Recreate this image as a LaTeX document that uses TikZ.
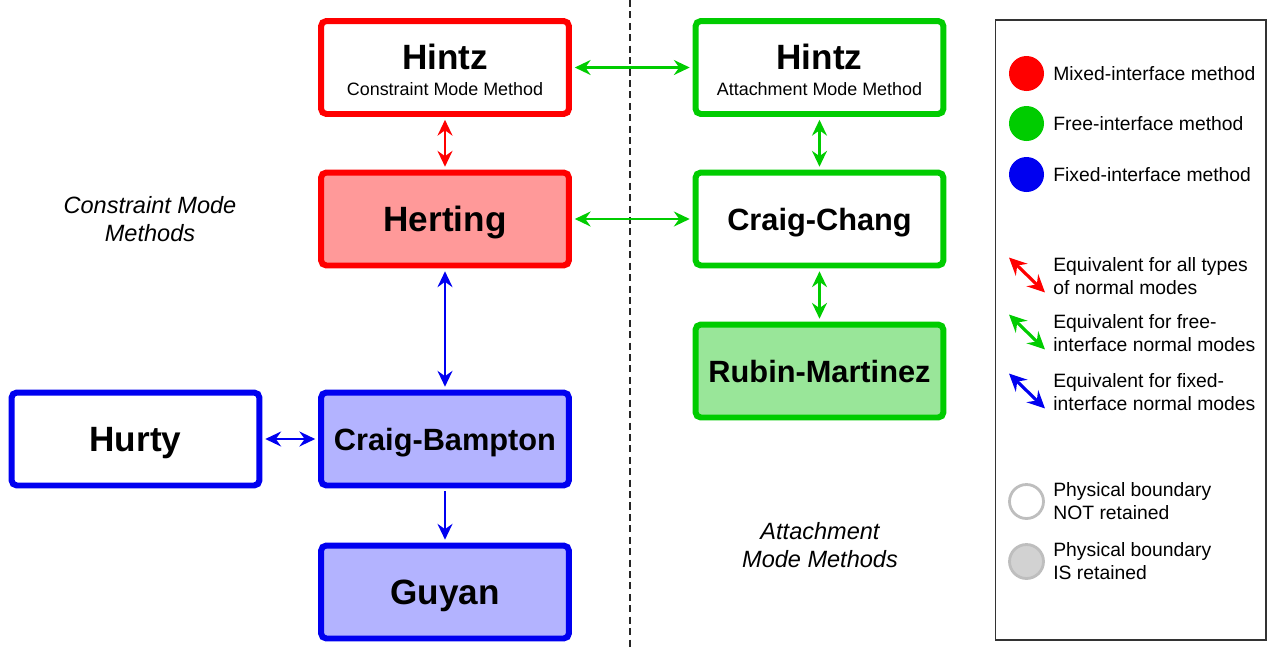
\documentclass[tikz,border=0pt]{standalone}
\usepackage{fontspec}
\setmainfont{Liberation Sans}
\usetikzlibrary{arrows.meta}

\definecolor{cmred}{RGB}{255,0,0}
\definecolor{cmgreen}{RGB}{0,204,0}
\definecolor{cmblue}{RGB}{0,0,240}
\definecolor{redfill}{RGB}{255,153,153}
\definecolor{greenfill}{RGB}{153,230,153}
\definecolor{bluefill}{RGB}{179,179,255}
\definecolor{bdgray}{RGB}{190,190,190}
\definecolor{bdfill}{RGB}{210,210,210}

\tikzset{
  box/.style={draw, line width=3.4pt, rounded corners=3pt, minimum width=4.96cm, minimum height=1.86cm,
    inner sep=0pt, align=center, font=\bfseries\fontsize{20}{24}\selectfont},
  oneline/.style={text height=14.4pt, text depth=0pt},
  longname/.style={font=\bfseries\fontsize{17.5}{21}\selectfont, text height=12.6pt, text depth=0pt},
  link/.style={line width=1.4pt, <->, >={Stealth[length=9pt,width=8.5pt,inset=3pt]}, shorten <=1.6pt, shorten >=1.6pt},
  legtext/.style={anchor=west, align=left, inner sep=0pt, font=\fontsize{11}{13}\selectfont},
  groupname/.style={align=center, font=\itshape\fontsize{13.4}{16}\selectfont}
}

\begin{document}
\begin{tikzpicture}[x=0.02cm, y=-0.02cm]
\useasboundingbox (0,0) rectangle (1269,650);

\draw[black!85, line width=0.7pt, dash pattern=on 4pt off 2.5pt] (630,0) -- (630,650);

% constraint mode side
\node[box, draw=cmred] (hintzC) at (445,67.5) {\rule{0pt}{17pt}Hintz\\[-9pt]{\mdseries\fontsize{10.2}{12}\selectfont Constraint Mode Method}};
\node[box, oneline, draw=cmred, fill=redfill] (herting) at (445,219) {Herting};
\node[box, longname, draw=cmblue, fill=bluefill] (craigBampton) at (445,439) {Craig-Bampton};
\node[box, oneline, draw=cmblue] (hurty) at (135.5,439) {Hurty};
\node[box, oneline, draw=cmblue, fill=bluefill] (guyan) at (445,592) {Guyan};

% attachment mode side
\node[box, draw=cmgreen] (hintzA) at (819.5,67.5) {\rule{0pt}{17pt}Hintz\\[-9pt]{\mdseries\fontsize{10.2}{12}\selectfont Attachment Mode Method}};
\node[box, longname, draw=cmgreen] (craigChang) at (819.5,219) {Craig-Chang};
\node[box, longname, draw=cmgreen, fill=greenfill] (rubin) at (819.5,371) {Rubin-Martinez};

\draw[link, cmgreen] (hintzC) -- (hintzA);
\draw[link, cmred] (hintzC) -- (herting);
\draw[link, cmgreen] (herting) -- (craigChang);
\draw[link, cmgreen] (hintzA) -- (craigChang);
\draw[link, cmgreen] (craigChang) -- (rubin);
\draw[link, cmblue] (herting) -- (craigBampton);
\draw[link, cmblue] (hurty) -- (craigBampton);
\draw[link, cmblue, -{Stealth[length=9pt,width=8.5pt,inset=3pt]}] (craigBampton) -- (guyan);

\node[groupname] (cmMethods) at (150,219) {Constraint Mode\\Methods};
\node[groupname] (amMethods) at (820,545) {Attachment\\Mode Methods};

% legend
\draw[black!80, line width=0.9pt] (995.5,20) rectangle (1266,640);
\foreach \c/\y/\t in {cmred/73.5/Mixed-interface method, cmgreen/123.5/Free-interface method, cmblue/174.5/Fixed-interface method} {
  \fill[\c] (1026.5,\y) circle[radius=0.35cm];
  \node[legtext] (leg\c) at (1053,\y) {\t};
}
\foreach \c/\y/\t in {cmred/276.5/{Equivalent for all types\\of normal modes}, cmgreen/333.5/{Equivalent for free-\\interface normal modes}, cmblue/392.5/{Equivalent for fixed-\\interface normal modes}} {
  \draw[\c, line width=1.8pt, <->, >={Stealth[length=10pt,width=9.5pt,inset=3.5pt]}] (1009,\y-19) -- (1045,\y+16);
  \node[legtext] (eq\c) at (1053,\y) {\t};
}
\draw[bdgray, line width=1.6pt] (1026.5,501.5) circle[radius=0.34cm];
\node[legtext] (notKept) at (1053,501.5) {Physical boundary\\NOT retained};
\draw[bdgray, fill=bdfill, line width=1.6pt] (1026.5,561.5) circle[radius=0.34cm];
\node[legtext] (kept) at (1053,561.5) {Physical boundary\\IS retained};
\end{tikzpicture}
\end{document}
